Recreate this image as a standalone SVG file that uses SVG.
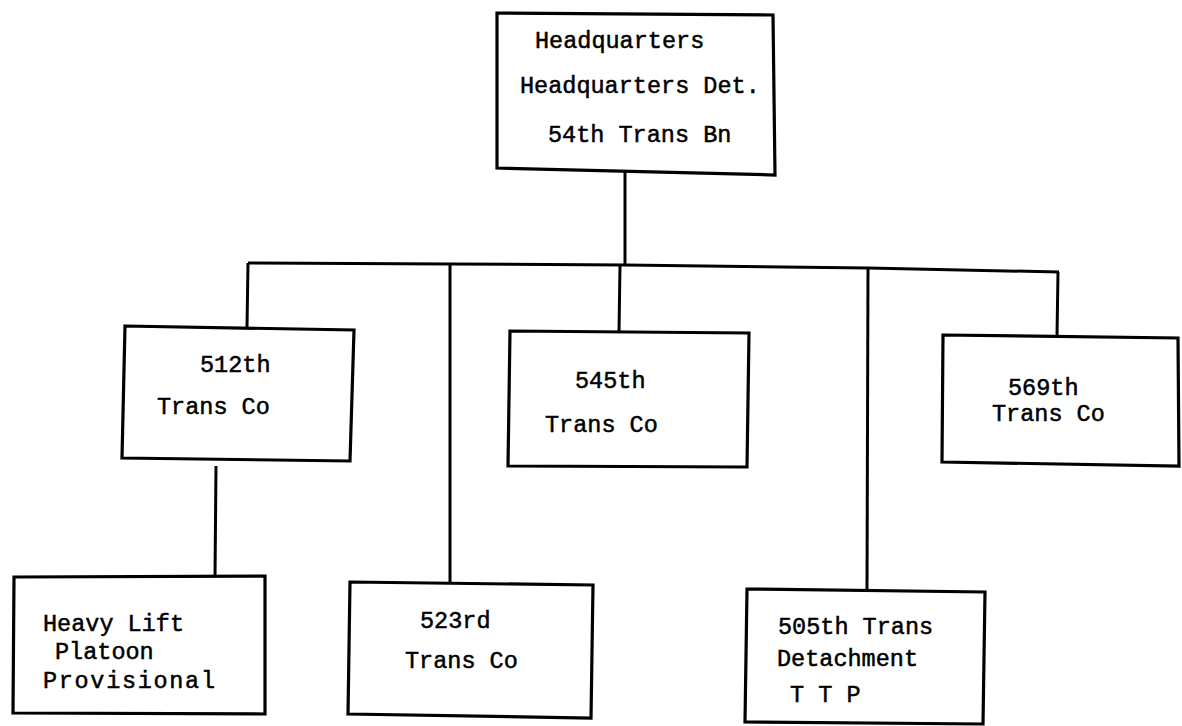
<svg xmlns="http://www.w3.org/2000/svg" width="1182" height="726" viewBox="0 0 1182 726">
<style>
.box{fill:#fff;stroke:#000;stroke-width:3.2;stroke-linejoin:miter}
.ln{fill:none;stroke:#000;stroke-width:3}
text{font-family:"Liberation Mono","Courier New",monospace;font-size:23.5px;fill:#000;stroke:#000;stroke-width:0.5}
</style>
<rect width="1182" height="726" fill="#fff"/>
<g id="connectors">
<path class="ln" d="M625 172 L625 264"/>
<path class="ln" d="M248 263 L450 264 L625 265 L868 268 L1059 272"/>
<path class="ln" d="M248 263 L247 327"/>
<path class="ln" d="M450 264 L450 584"/>
<path class="ln" d="M620 265 L619 332"/>
<path class="ln" d="M868 268 L867 589"/>
<path class="ln" d="M1058 272 L1057 336"/>
<path class="ln" d="M216 466 L215 577"/>
</g>
<g id="hq">
<path class="box" d="M497 13 L773 15 L775 175 L497 168 Z"/>
<text x="535" y="48">Headquarters</text>
<text x="520" y="93">Headquarters Det.</text>
<text x="548" y="142">54th Trans Bn</text>
</g>
<g id="n512">
<path class="box" d="M125 326 L354 330 L350 461 L122 458 Z"/>
<text x="200" y="372">512th</text>
<text x="157" y="414">Trans Co</text>
</g>
<g id="n545">
<path class="box" d="M510 331 L749 333 L747 467 L508 466 Z"/>
<text x="575" y="388">545th</text>
<text x="545" y="432">Trans Co</text>
</g>
<g id="n569">
<path class="box" d="M943 335 L1178 338 L1179 466 L942 462 Z"/>
<text x="1008" y="395">569th</text>
<text x="992" y="421">Trans Co</text>
</g>
<g id="heavylift">
<path class="box" d="M14 577 L265 576 L265 714 L13 713 Z"/>
<text x="43" y="631">Heavy Lift</text>
<text x="55" y="659">Platoon</text>
<text x="43" y="688" textLength="172" lengthAdjust="spacing">Provisional</text>
</g>
<g id="n523">
<path class="box" d="M350 582 L593 585 L591 718 L348 714 Z"/>
<text x="420" y="628">523rd</text>
<text x="405" y="668">Trans Co</text>
</g>
<g id="n505">
<path class="box" d="M747 589 L985 592 L983 724 L745 722 Z"/>
<text x="778" y="634">505th Trans</text>
<text x="777" y="666">Detachment</text>
<text x="790" y="702">T T P</text>
</g>
</svg>
